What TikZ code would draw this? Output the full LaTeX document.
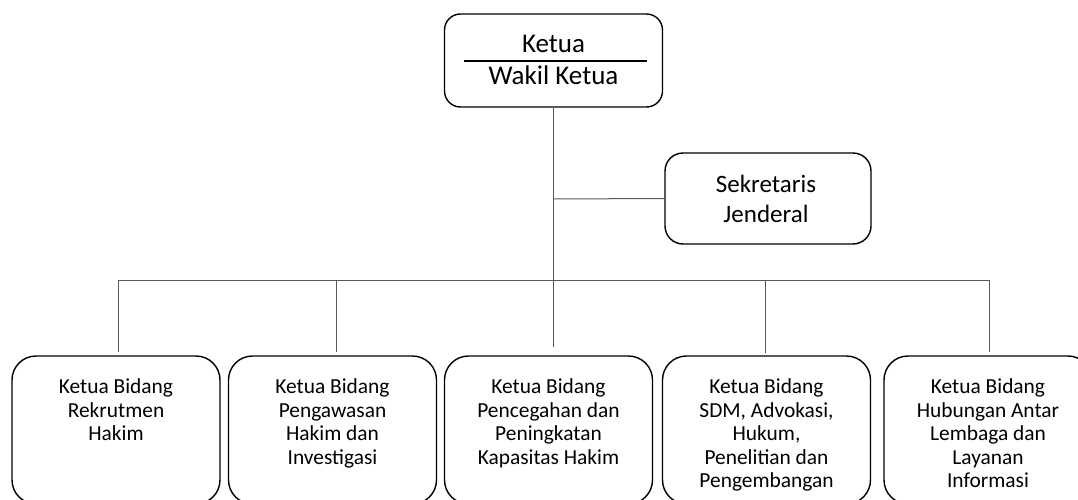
\documentclass[tikz,border=0pt]{standalone}
\usepackage{fontspec}
\setmainfont{Carlito}
\begin{document}
\begin{tikzpicture}[x=1pt,y=-1pt,
  box/.style={draw=black,line width=1.4pt,rounded corners=16pt,fill=none,inner sep=0pt},
  bbox/.style={draw=black,line width=1.4pt,rounded corners=24pt,inner sep=0pt,minimum width=208pt,minimum height=148pt},
  conn/.style={draw=black!65,line width=1pt},
  big/.style={font=\fontsize{27}{30}\selectfont,inner sep=0pt},
  sekf/.style={font=\fontsize{25}{30}\selectfont,inner sep=0pt},
  small/.style={font=\fontsize{21.4}{23.6}\selectfont,inner sep=0pt,align=center,anchor=north}]
\useasboundingbox (0,0) rectangle (1078,500);
\clip (0,0) rectangle (1078,500);
% top box
\node[box,minimum width=218pt,minimum height=93pt] (top) at (553.5,60.5) {};
\node[big,anchor=base] (t1) at (553.5,52.7) {Ketua};
\node[big,anchor=base] (t2) at (553.5,85) {Wakil Ketua};
\draw[line width=1.4pt] (464,61) -- (647,61);
% sekretaris
\node[box,minimum width=206pt,minimum height=91pt,rounded corners=18pt] (sek) at (768,198.5) {};
\node[sekf,anchor=base] (s1) at (766,192) {Sekretaris};
\node[sekf,anchor=base] (s2) at (766,222) {Jenderal};
% bottom boxes
\node[bbox] (b1) at (116,430) {};
\node[bbox] (b2) at (332.5,430) {};
\node[bbox] (b3) at (548.5,430) {};
\node[bbox] (b4) at (766.5,430) {};
\node[bbox] (b5) at (988,430) {};
\node[small] (l1) at (116,378.5) {Ketua Bidang\\Rekrutmen\\Hakim};
\node[small] (l2) at (332.5,378.5) {Ketua Bidang\\Pengawasan\\Hakim dan\\Investigasi};
\node[small] (l3) at (548.5,378.5) {Ketua Bidang\\Pencegahan dan\\Peningkatan\\Kapasitas Hakim};
\node[small] (l4) at (766.5,378.5) {Ketua Bidang\\SDM, Advokasi,\\Hukum,\\Penelitian dan\\Pengembangan};
\node[small] (l5) at (988,378.5) {Ketua Bidang\\Hubungan Antar\\Lembaga dan\\Layanan\\Informasi};
% connectors
\coordinate (j) at (553,199);
\coordinate (d3) at (553,347);
\coordinate (busL) at (118,280);
\coordinate (busR) at (989,280);
\coordinate (d1) at (118,352);
\coordinate (d2) at (336,352);
\coordinate (d4) at (765,353);
\coordinate (d5) at (989,352);
\coordinate (m2) at (336,280);
\coordinate (m4) at (765,280);
\draw[conn] (top.south -| j) -- (d3);
\draw[conn] (j) -- (sek.west);
\draw[conn] (busL) -- (busR);
\draw[conn] (busL) -- (d1);
\draw[conn] (m2) -- (d2);
\draw[conn] (m4) -- (d4);
\draw[conn] (busR) -- (d5);
\end{tikzpicture}
\end{document}
